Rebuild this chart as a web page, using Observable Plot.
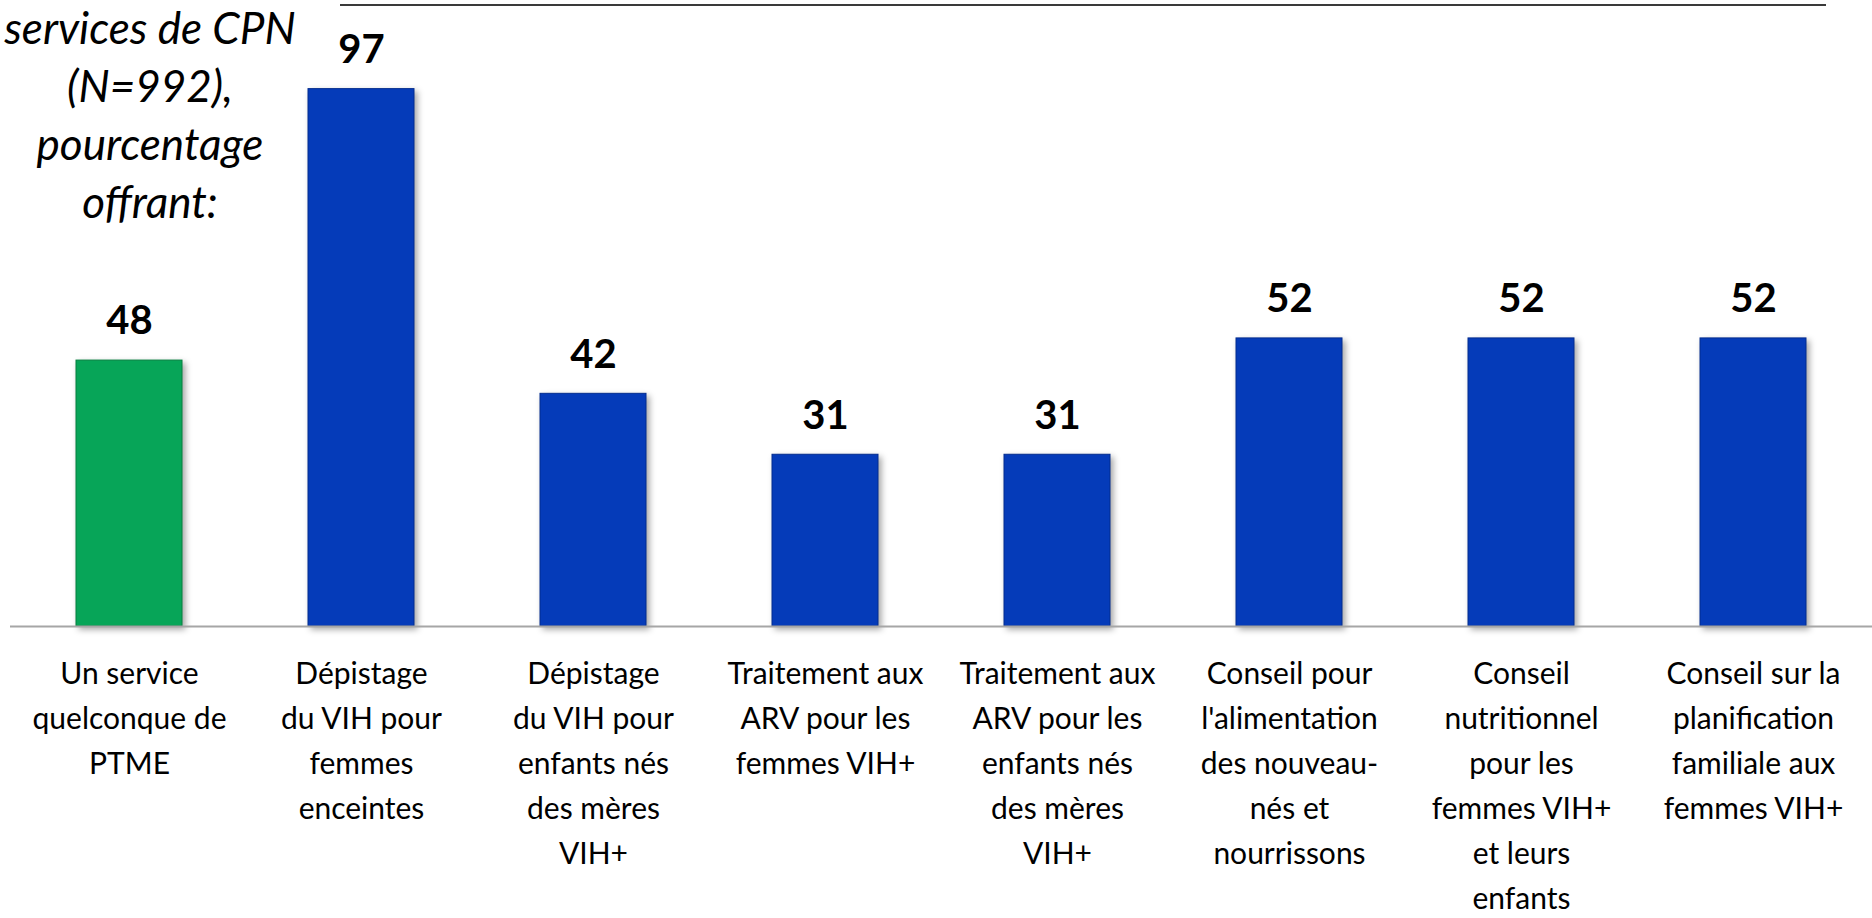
<!DOCTYPE html>
<html>
<head>
<meta charset="utf-8">
<script src="https://cdn.jsdelivr.net/npm/d3@7"></script>
<script src="https://cdn.jsdelivr.net/npm/@observablehq/plot@0.6"></script>
<style>
  html, body { margin: 0; padding: 0; background: #fff; }
  #wrap { position: relative; width: 1872px; height: 918px; overflow: hidden; font-family: Lato, "Open Sans", sans-serif; }
  #title { position: absolute; left: 2px; top: -2px; width: 296px; text-align: center; font-style: italic; font-size: 44px; line-height: 58px; color: #000; }
  #topline { position: absolute; left: 340px; top: 4px; width: 1486px; height: 2px; background: #3a3a3a; }
  #chart svg g[aria-label="bar"] rect { filter: drop-shadow(3px 3px 3px rgba(0,0,0,0.35)); }
</style>
</head>
<body>
<div id="wrap">
  <div id="chart"></div>
  <div id="topline"></div>
  <div id="title">services de CPN<br>(N=992),<br>pourcentage<br>offrant:</div>
</div>
<script>
const categories = [
  "Un service\nquelconque de\nPTME",
  "Dépistage\ndu VIH pour\nfemmes\nenceintes",
  "Dépistage\ndu VIH pour\nenfants nés\ndes mères\nVIH+",
  "Traitement aux\nARV pour les\nfemmes VIH+",
  "Traitement aux\nARV pour les\nenfants nés\ndes mères\nVIH+",
  "Conseil pour\nl'alimentation\ndes nouveau-\nnés et\nnourrissons",
  "Conseil\nnutritionnel\npour les\nfemmes VIH+\net leurs\nenfants",
  "Conseil sur la\nplanification\nfamiliale aux\nfemmes VIH+"
];
const values = [48, 97, 42, 31, 31, 52, 52, 52];

const data = categories.map((c, i) => ({category: c, value: values[i]}));
const GREEN = "#07a558";
const BLUE = "#053bb9";

const chart = Plot.plot({
  width: 1872,
  height: 918,
  marginLeft: 10,
  marginRight: 0,
  marginTop: 72,
  marginBottom: 292,
  style: {fontFamily: "Lato, 'Open Sans', sans-serif", background: "transparent"},
  x: {domain: categories, paddingInner: 0.545, paddingOuter: 0.2725, label: null},
  y: {domain: [0, 100], axis: null},
  marks: [
    Plot.barY(data, {
      x: "category", y: "value",
      fill: (d, i) => i === 0 ? GREEN : BLUE,
      stroke: (d, i) => i === 0 ? "#05803f" : "#032c8f",
      strokeWidth: 1
    }),
    Plot.ruleY([0], {stroke: "#a6a6a6", strokeWidth: 2}),
    Plot.text(data, {
      x: "category", y: "value", text: d => String(d.value),
      lineAnchor: "middle", dy: -39,
      fontSize: 40, fontWeight: "bold", fill: "#000"
    }),
    Plot.axisX({
      tickSize: 0, tickPadding: 26, fontSize: 30, lineHeight: 1.5,
      fill: "#000", label: null
    })
  ]
});
document.getElementById("chart").appendChild(chart);
</script>
</body>
</html>
